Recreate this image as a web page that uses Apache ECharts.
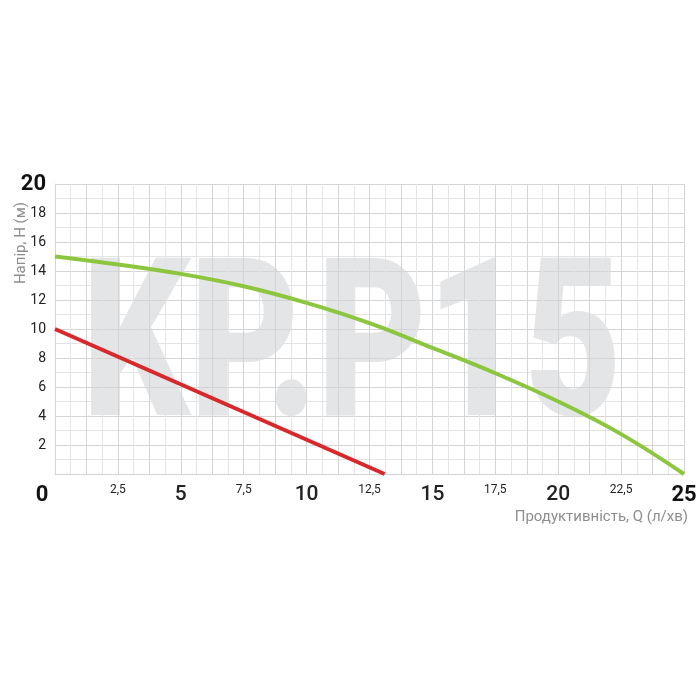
<!DOCTYPE html>
<html>
<head>
<meta charset="utf-8">
<script src="https://cdn.jsdelivr.net/npm/echarts@6/dist/echarts.min.js"></script>
<style>html,body{margin:0;padding:0;background:#fff;}#c{width:700px;height:700px;}</style>
</head>
<body>
<div id="c"></div>
<script>
var FONT = "Roboto, 'Liberation Sans', sans-serif";
var greenQ = [0, 2.5, 5, 7.5, 10, 12.5, 15, 17.5, 20, 22.5, 25];
var greenH = [15, 14.45, 13.8, 12.95, 11.8, 10.4, 8.7, 6.95, 5.0, 2.75, 0];
var redQ = [0, 13.1];
var redH = [10, 0];
var xTickLabels = ['0', '2,5', '5', '7,5', '10', '12,5', '15', '17,5', '20', '22,5', '25'];
var yTickLabels = ['', '2', '4', '6', '8', '10', '12', '14', '16', '18', '20'];
var watermark = 'KP.P15';
var yName = 'Напір, Н (м)';
var xName = 'Продуктивність, Q (л/хв)';

function pairs(xs, ys) { return xs.map(function (x, i) { return [x, ys[i]]; }); }

var chart = echarts.init(document.getElementById('c'));
chart.setOption({
  animation: false,
  backgroundColor: '#fff',
  grid: { left: 55, right: 16, top: 184, bottom: 226, containLabel: false, outerBoundsMode: 'none' },
  graphic: [{
    type: 'text', z: -10, silent: true,
    x: 82, y: 470, scaleX: 0.762,
    style: { text: watermark, font: '900 221px ' + FONT, fill: '#e4e5e7', verticalAlign: 'bottom', align: 'left' }
  }],
  xAxis: {
    type: 'value', min: 0, max: 25, interval: 1.25,
    name: xName, nameLocation: 'end', nameGap: 4,
    nameTextStyle: { color: '#8e8e8e', fontSize: 15, fontFamily: FONT, align: 'right', verticalAlign: 'top', padding: [36, 0, 0, 0] },
    axisLine: { show: true, lineStyle: { color: '#d4d4d4', width: 1 } },
    axisTick: { show: false },
    splitLine: { show: true, lineStyle: { color: '#d4d4d4', width: 1 } },
    minorTick: { show: false, splitNumber: 2 },
    minorSplitLine: { show: true, lineStyle: { color: '#e4e4e4', width: 1 } },
    axisLabel: {
      interval: 0, margin: 10, showMinLabel: true, showMaxLabel: true,
      formatter: function (v) {
        var k = Math.round(v / 2.5 * 1000) / 1000;
        if (Math.abs(k - Math.round(k)) > 1e-6) return '';
        var idx = Math.round(k);
        var t = xTickLabels[idx];
        if (idx === 0) return '{z|' + t + '}';
        if (idx === 10) return '{m|' + t + '}';
        if (idx % 2 === 1) return '{s|' + t + '}';
        return '{b|' + t + '}';
      },
      rich: {
        s: { fontSize: 12, fontFamily: FONT, color: '#222' },
        b: { fontSize: 21, fontWeight: 500, fontFamily: FONT, color: '#222' },
        m: { fontSize: 22, fontWeight: 'bold', fontFamily: FONT, color: '#111' },
        z: { fontSize: 22, fontWeight: 'bold', fontFamily: FONT, color: '#111', padding: [0, 26, 0, 0] }
      }
    }
  },
  yAxis: {
    type: 'value', min: 0, max: 20, interval: 2,
    name: yName, nameLocation: 'middle', nameGap: 26, nameMoveOverlap: false,
    nameTextStyle: { color: '#8e8e8e', fontSize: 15, fontFamily: FONT, padding: [0, 0, 0, 172] },
    axisLine: { show: true, lineStyle: { color: '#d4d4d4', width: 1 } },
    axisTick: { show: false },
    splitLine: { show: true, lineStyle: { color: '#d4d4d4', width: 1 } },
    minorTick: { show: false, splitNumber: 2 },
    minorSplitLine: { show: true, lineStyle: { color: '#e4e4e4', width: 1 } },
    axisLabel: {
      interval: 0, margin: 9, showMinLabel: true, showMaxLabel: true,
      formatter: function (v) {
        var idx = Math.round(v / 2);
        var t = yTickLabels[idx];
        if (!t) return '';
        if (idx === 10) return '{m|' + t + '}';
        return '{s|' + t + '}';
      },
      rich: {
        s: { fontSize: 14, fontFamily: FONT, color: '#222' },
        m: { fontSize: 22, fontWeight: 'bold', fontFamily: FONT, color: '#111' }
      }
    }
  },
  series: [{
    type: 'line', data: pairs(greenQ, greenH), smooth: 0.4, symbol: 'none',
    lineStyle: { color: '#8cc63f', width: 4 }, z: 3
  }, {
    type: 'line', data: pairs(redQ, redH), symbol: 'none',
    lineStyle: { color: '#d7282b', width: 4 }, z: 4
  }]
});
</script>
</body>
</html>
